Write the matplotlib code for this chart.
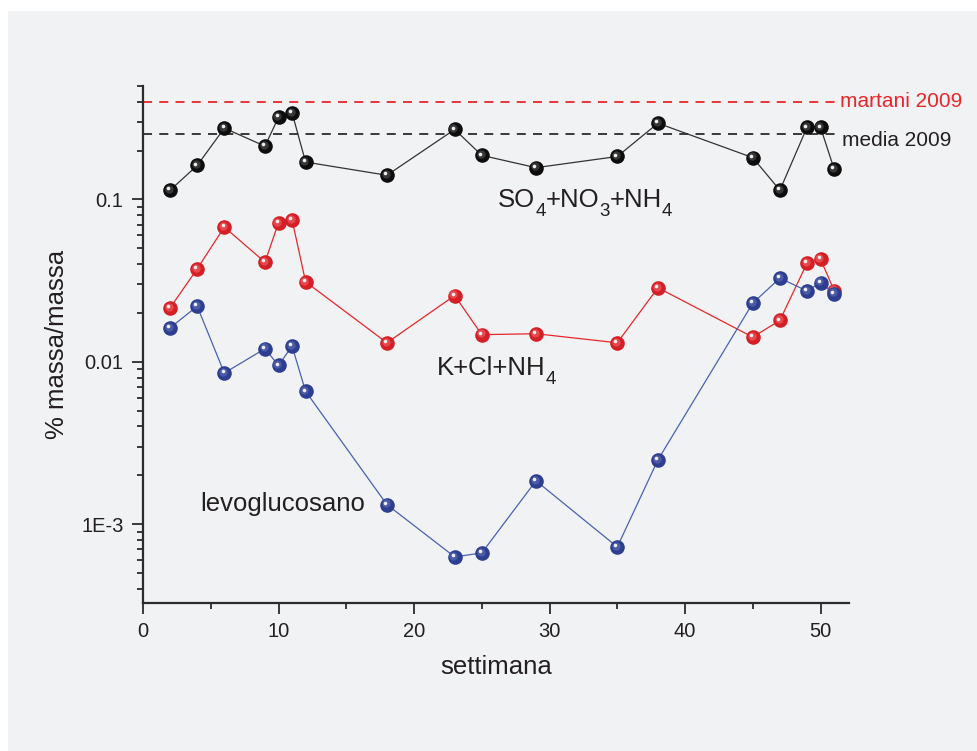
import matplotlib
matplotlib.use("Agg")
import matplotlib.pyplot as plt
from matplotlib.patches import Rectangle
from matplotlib.transforms import offset_copy
from matplotlib.ticker import FixedLocator, FixedFormatter, NullFormatter
import numpy as np

plt.rcParams['font.family'] = ['Liberation Sans', 'DejaVu Sans']

# ---- data ----
weeks_sec = [2, 4, 6, 9, 10, 11, 12, 18, 23, 25, 29, 35, 38, 45, 47, 49, 50, 51]
sec = [0.114, 0.162, 0.275, 0.213, 0.321, 0.342, 0.170, 0.141, 0.270, 0.187,
       0.157, 0.184, 0.295, 0.181, 0.114, 0.278, 0.278, 0.154]
weeks_kcl = [2, 4, 6, 9, 10, 11, 12, 18, 23, 25, 29, 35, 38, 45, 47, 49, 50, 51]
kcl = [0.0215, 0.0374, 0.0676, 0.0411, 0.0719, 0.0750, 0.0311, 0.0131, 0.0256, 0.0147,
       0.0149, 0.0131, 0.0286, 0.0142, 0.0180, 0.0405, 0.0429, 0.0275]
weeks_levo = [2, 4, 6, 9, 10, 11, 12, 18, 23, 25, 29, 35, 38, 45, 47, 49, 50, 51]
levo = [0.0162, 0.0220, 0.00853, 0.01205, 0.0095, 0.0125, 0.00658, 0.00132, 0.000629,
        0.000665, 0.00185, 0.000724, 0.00249, 0.0230, 0.0328, 0.0273, 0.0308, 0.0263]
martani_2009 = 0.40
media_2009 = 0.254

ytick_vals = [1e-3, 1e-2, 1e-1]
ytick_labels = ["1E-3", "0.01", "0.1"]

# ---- figure ----
W, H = 978, 751
fig = plt.figure(figsize=(W / 100, H / 100), dpi=100)
fig.patch.set_facecolor('white')
panel = '#f1f2f4'
fig.patches.append(Rectangle((8 / W, 0), 1 - 8 / W, 1 - 11 / H, transform=fig.transFigure,
                             facecolor=panel, edgecolor='none', zorder=-10))

ax = fig.add_axes([143 / W, 1 - 603 / H, (849 - 143) / W, (603 - 86) / H])
ax.set_zorder(1)
ax.set_facecolor(panel)
ax.set_yscale('log')
ax.set_xlim(0, 52.1)
ax.set_ylim(3.27e-4, 0.5)

txt = '#231f20'
for s in ['top', 'right']:
    ax.spines[s].set_visible(False)
for s in ['left', 'bottom']:
    ax.spines[s].set_linewidth(1.6)
    ax.spines[s].set_color('#2b2b2b')

ax.set_xticks([0, 10, 20, 30, 40, 50])
ax.set_xticks([5, 15, 25, 35, 45], minor=True)
ax.yaxis.set_major_locator(FixedLocator(ytick_vals))
ax.yaxis.set_major_formatter(FixedFormatter(ytick_labels))
minor = [m * 10.0 ** e for e in (-4, -3, -2, -1) for m in range(2, 10)]
minor = [v for v in minor if 3.27e-4 <= v <= 0.5]
ax.yaxis.set_minor_locator(FixedLocator(minor))
ax.yaxis.set_minor_formatter(NullFormatter())
ax.tick_params(which='major', direction='out', length=8, width=1.3, colors='#2b2b2b',
               labelsize=14.5, labelcolor=txt, pad=6)
ax.tick_params(which='minor', direction='out', length=4.5, width=1.3, colors='#2b2b2b')

ax.set_xlabel('settimana', fontsize=18.5, color=txt, labelpad=10)
ax.set_ylabel('% massa/massa', fontsize=18.5, color=txt, labelpad=9)

# reference lines
ax.hlines(martani_2009, 0, 51.2, colors='#e8262a', linestyles=(0, (5, 4)), linewidth=1.3, zorder=2)
ax.hlines(media_2009, 0, 51.3, colors='#2b2b2b', linestyles=(0, (5, 4)), linewidth=1.3, zorder=2)
ax.text(51.45, martani_2009, 'martani 2009', color='#e8262a', fontsize=15, va='center', ha='left')
ax.text(51.55, 0.232, 'media 2009', color=txt, fontsize=15, va='center', ha='left')

hl1 = offset_copy(ax.transData, fig=fig, x=-1.2, y=1.2, units='dots')
hl2 = offset_copy(ax.transData, fig=fig, x=-1.8, y=1.8, units='dots')


def series(x, y, line, base, mid, z):
    ax.plot(x, y, '-', color=line, linewidth=0.9, zorder=z)
    ax.plot(x, y, 'o', ms=10.5, mfc=base, mec='none', zorder=z + 0.1)
    ax.plot(x, y, 'o', ms=6, mfc=mid, mec='none', alpha=0.7, transform=hl1, zorder=z + 0.2)
    ax.plot(x, y, 'o', ms=2.6, mfc='#eeeeee', mec='none', transform=hl2, zorder=z + 0.3)


series(weeks_kcl, kcl, '#e8262a', '#d41f26', '#ee5a5e', 3)
series(weeks_levo, levo, '#4a62b0', '#2d3e91', '#5868b0', 4)
series(weeks_sec, sec, '#333333', '#0d0d0d', '#4a4a4a', 5)

renderer = fig.canvas.get_renderer()


def formula(x, y, pieces, size=18.5, sub=13.5, drop=6.5):
    """pieces: list of (text, is_subscript)"""
    xoff = 0.0  # in pixels
    for s, is_sub in pieces:
        tr = offset_copy(ax.transData, fig=fig, x=xoff, y=-drop * 100 / 72 if is_sub else 0,
                         units='dots')
        t = ax.text(x, y, s, fontsize=sub if is_sub else size, color=txt,
                    ha='left', va='baseline', transform=tr, zorder=6)
        xoff += t.get_window_extent(renderer).width


formula(26.2, 0.0893, [('SO', 0), ('4', 1), ('+NO', 0), ('3', 1), ('+NH', 0), ('4', 1)])
formula(21.7, 0.00826, [('K+Cl+NH', 0), ('4', 1)])
ax.text(4.2, 0.00121, 'levoglucosano', fontsize=18.5, color=txt, ha='left', va='baseline')

fig.savefig('out.png', dpi=100, facecolor='white')
